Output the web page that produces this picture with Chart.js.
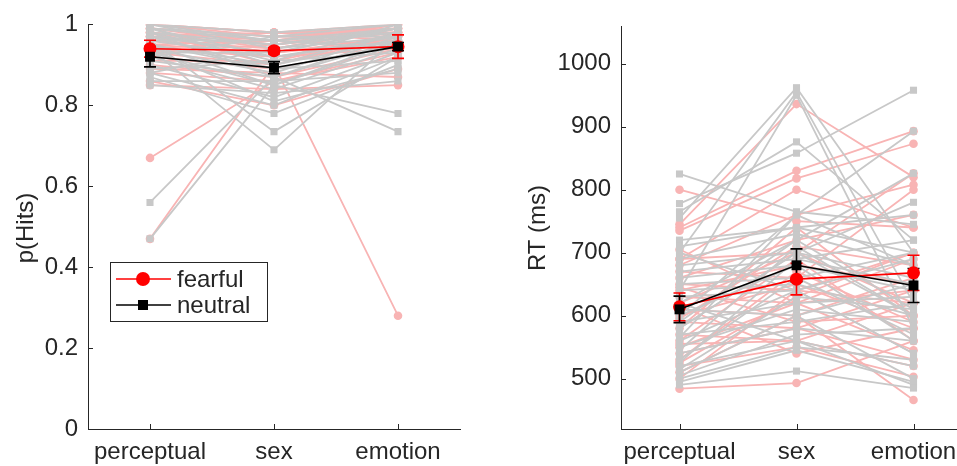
<!DOCTYPE html>
<html>
<head>
<meta charset="utf-8">
<script src="https://cdn.jsdelivr.net/npm/chart.js@4.4.1/dist/chart.umd.min.js"></script>
<style>
  body { margin:0; background:#fff; overflow:hidden; width:957px; height:466px; position:relative; }
  canvas { position:absolute; top:0; }
  #accChart { left:0; }
  #rtChart { left:480px; }
</style>
</head>
<body>
<canvas id="accChart" width="478" height="466"></canvas>
<canvas id="rtChart" width="510" height="466"></canvas>
<script>
// categories
var cats = ['perceptual', 'sex', 'emotion'];

// p(Hits), one triple per subject: [perceptual, sex, emotion]
var accFear = [
  [1.00,0.98,1.00],[0.99,0.97,0.99],[0.98,0.96,1.00],[0.97,0.95,0.98],[0.96,0.94,0.99],
  [0.95,0.93,0.97],[0.94,0.92,0.96],[0.93,0.90,0.98],[0.92,0.89,0.95],[0.90,0.87,0.94],
  [0.88,0.86,0.92],[0.86,0.80,0.89],[0.85,0.84,0.85],[0.67,0.86,0.93],[0.47,0.90,0.97],
  [0.98,0.90,0.28],[1.00,0.97,0.97],[0.99,0.95,1.00],[0.97,0.93,0.96],[0.96,0.98,0.98],
  [0.95,0.96,0.95],[0.98,0.94,0.99],[0.91,0.91,0.97],[0.99,0.97,0.98],[0.94,0.96,1.00],
  [0.97,0.98,0.99],[0.89,0.88,0.87],[1.00,0.98,0.96],[0.96,0.92,0.94],[0.93,0.95,0.98]
];
var accNeut = [
  [1.00,0.98,1.00],[0.99,0.96,0.99],[0.98,0.95,0.98],[0.97,0.93,0.99],[0.96,0.92,0.97],
  [0.95,0.90,0.96],[0.94,0.88,0.98],[0.93,0.85,0.95],[0.92,0.84,0.94],[0.90,0.82,0.93],
  [0.88,0.80,0.92],[0.87,0.78,0.90],[0.86,0.86,0.88],[0.85,0.83,0.86],[0.47,0.85,0.96],
  [0.56,0.87,0.97],[0.96,0.735,0.92],[0.94,0.69,0.97],[0.95,0.85,0.78],[0.91,0.87,0.735],
  [1.00,0.94,0.99],[0.99,0.97,0.97],[0.98,0.91,1.00],[0.97,0.89,0.95],[0.96,0.96,0.94],
  [0.93,0.93,0.99],[0.99,0.90,0.98],[0.98,0.87,0.96],[0.89,0.91,0.93],[0.97,0.95,0.99],
  [0.92,0.97,1.00],[0.95,0.89,0.91],[0.99,0.92,0.96],[0.88,0.94,0.97],[1.00,0.96,0.98],
  [0.94,0.81,0.89]
];
var accFearMean = [0.940, 0.935, 0.945];
var accFearErr  = [0.021, 0.008, 0.029];
var accNeutMean = [0.920, 0.893, 0.945];
var accNeutErr  = [0.025, 0.015, 0.010];
var accTicks = [0, 0.2, 0.4, 0.6, 0.8, 1];

// RT (ms), one triple per subject
var rtFear = [
  [800,750,740],[745,936,820],[740,830,893],[735,818,873],[690,700,826],
  [680,760,808],[670,660,800],[660,720,760],[650,640,700],[640,680,650],
  [630,620,690],[620,700,620],[610,600,660],[600,650,580],[590,580,640],
  [580,740,600],[570,560,620],[560,690,560],[550,620,545],[540,580,530],
  [530,670,590],[520,550,503],[510,600,466],[500,640,620],[484,493,560],
  [595,710,680],[525,630,700],[555,560,520],[645,590,600],[690,800,740],
  [705,620,640],[615,540,580]
];
var rtNeut = [
  [825,765,745],[778,858,958],[765,876,720],[755,962,700],[700,955,620],
  [640,950,580],[600,760,893],[590,720,826],[580,700,780],[710,740,700],
  [690,730,680],[680,700,660],[670,690,720],[660,680,640],[650,660,700],
  [640,650,600],[630,640,690],[620,720,610],[610,600,650],[600,680,560],
  [590,620,630],[580,700,600],[570,590,620],[560,640,540],[550,610,590],
  [540,580,560],[530,660,570],[520,560,520],[510,600,500],[500,550,530],
  [490,512,485],[495,545,495],[505,570,580],[515,630,610],[525,690,650],
  [545,710,600],[565,760,680],[620,560,490],[700,640,540],[720,740,760]
];
var rtFearMean = [614, 658, 668];
var rtFearErr  = [22, 25, 28];
var rtNeutMean = [610, 680, 648];
var rtNeutErr  = [21, 26, 27];
var rtTicks = [500, 600, 700, 800, 900, 1000];

var PINK = '#f8b4b4';
var GREY = '#c8c8c8';
var AXIS = '#262626';
var FONT = "'Liberation Sans', Arial, sans-serif";

function pts(v) {
  return v.map(function(y, i) { return {x: i + 1, y: y}; });
}

function buildSets(fear, neut, fm, nm) {
  var sets = [
    {data: pts(nm), borderColor:'#000', backgroundColor:'#000', pointStyle:'rect', pointRadius:7, borderWidth:1.6, pointBorderWidth:0},
    {data: pts(fm), borderColor:'#f00', backgroundColor:'#f00', pointStyle:'circle', pointRadius:6.5, borderWidth:1.6, pointBorderWidth:0}
  ];
  neut.forEach(function(s) {
    sets.push({data: pts(s), borderColor:GREY, backgroundColor:GREY, pointStyle:'rect', pointRadius:5, borderWidth:1.8, pointBorderWidth:0});
  });
  fear.forEach(function(s) {
    sets.push({data: pts(s), borderColor:PINK, backgroundColor:PINK, pointStyle:'circle', pointRadius:4.3, borderWidth:1.8, pointBorderWidth:0});
  });
  return sets;
}

// error bars (after the individual lines, under the means), inward ticks, labels, legend
var extras = {
  id: 'extras',
  afterDatasetDraw: function(chart, args, o) {
    if (args.index !== 2) return;
    var ctx = chart.ctx, xs = chart.scales.x, ys = chart.scales.y;
    o.bars.forEach(function(b) {
      ctx.save();
      ctx.strokeStyle = b.color;
      ctx.lineWidth = 1.6;
      b.mean.forEach(function(m, i) {
        var px = xs.getPixelForValue(i + 1);
        var lo = ys.getPixelForValue(m - b.err[i]);
        var hi = ys.getPixelForValue(m + b.err[i]);
        ctx.beginPath();
        ctx.moveTo(px, lo); ctx.lineTo(px, hi);
        ctx.moveTo(px - 6, lo); ctx.lineTo(px + 6, lo);
        ctx.moveTo(px - 6, hi); ctx.lineTo(px + 6, hi);
        ctx.stroke();
      });
      ctx.restore();
    });
  },
  afterDraw: function(chart, args, o) {
    var ctx = chart.ctx, xs = chart.scales.x, ys = chart.scales.y, a = chart.chartArea;
    ctx.save();
    ctx.strokeStyle = AXIS;
    ctx.lineWidth = 1;
    ctx.beginPath();
    ys.ticks.forEach(function(t) {
      var py = Math.round(ys.getPixelForValue(t.value)) + 0.5;
      ctx.moveTo(a.left, py); ctx.lineTo(a.left + 5, py);
    });
    xs.ticks.forEach(function(t) {
      var px = Math.round(xs.getPixelForValue(t.value)) + 0.5;
      ctx.moveTo(px, a.bottom); ctx.lineTo(px, a.bottom - 5);
    });
    ctx.stroke();
    // y axis title
    ctx.fillStyle = AXIS;
    ctx.font = '24px ' + FONT;
    ctx.textAlign = 'center';
    ctx.textBaseline = 'middle';
    ctx.translate(o.titleX, o.titleY);
    ctx.rotate(-Math.PI / 2);
    ctx.fillText(o.title, 0, 0);
    ctx.restore();
    if (o.legend) {
      var L = o.legend;
      ctx.save();
      ctx.fillStyle = '#fff';
      ctx.fillRect(L.x, L.y, L.w, L.h);
      ctx.strokeStyle = AXIS;
      ctx.lineWidth = 1;
      ctx.strokeRect(L.x + 0.5, L.y + 0.5, L.w, L.h);
      ctx.font = '24px ' + FONT;
      ctx.textBaseline = 'middle';
      ctx.textAlign = 'left';
      L.items.forEach(function(it, k) {
        var yy = L.y + 17 + k * 26;
        ctx.strokeStyle = it.color;
        ctx.fillStyle = it.color;
        ctx.lineWidth = 1.6;
        ctx.beginPath();
        ctx.moveTo(L.x + 6, yy); ctx.lineTo(L.x + 61, yy);
        ctx.stroke();
        if (it.shape === 'circle') {
          ctx.beginPath(); ctx.arc(L.x + 33, yy, 7, 0, Math.PI * 2); ctx.fill();
        } else {
          ctx.fillRect(L.x + 28, yy - 5, 10, 10);
        }
        ctx.fillStyle = AXIS;
        ctx.fillText(it.label, L.x + 67, yy + 1);
      });
      ctx.restore();
    }
  }
};

function makeChart(id, fear, neut, fm, fe, nm, ne, ymin, ymax, yTicks, fmt, yWidth, padTop, padRight, extraOpts) {
  var opts = {
    responsive: false,
    animation: false,
    devicePixelRatio: 1,
    layout: {padding: {top: padTop, right: padRight, left: 0, bottom: 0}},
    plugins: {
      legend: {display: false},
      tooltip: {enabled: false},
      extras: Object.assign({
        bars: [
          {mean: fm, err: fe, color: '#f00'},
          {mean: nm, err: ne, color: '#000'}
        ]
      }, extraOpts)
    },
    scales: {
      x: {
        type: 'linear', min: 0.5, max: 3.5,
        afterBuildTicks: function(s) { s.ticks = cats.map(function(c, i) { return {value: i + 1}; }); },
        afterFit: function(s) { s.height = 37; },
        grid: {display: false, drawTicks: false},
        border: {display: true, color: AXIS, width: 1},
        ticks: {
          padding: 9, color: AXIS, font: {family: FONT, size: 24}, autoSkip: false, maxRotation: 0,
          callback: function(v) { return cats[v - 1]; }
        }
      },
      y: {
        min: ymin, max: ymax,
        afterBuildTicks: function(s) { s.ticks = yTicks.map(function(v) { return {value: v}; }); },
        afterFit: function(s) { s.width = yWidth; },
        grid: {display: false, drawTicks: false},
        border: {display: true, color: AXIS, width: 1},
        ticks: {
          padding: 10, color: AXIS, font: {family: FONT, size: 24},
          callback: fmt
        }
      }
    }
  };
  return new Chart(document.getElementById(id), {
    type: 'line',
    data: {datasets: buildSets(fear, neut, fm, nm)},
    options: opts,
    plugins: [extras]
  });
}

makeChart('accChart', accFear, accNeut, accFearMean, accFearErr, accNeutMean, accNeutErr,
  0, 1, accTicks, function(v) { return String(Math.round(v * 10) / 10); }, 88, 21, 18,
  {title: 'p(Hits)', titleX: 26, titleY: 228,
   legend: {x: 110, y: 262, w: 157, h: 59, items: [
     {label: 'fearful', color: '#f00', shape: 'circle'},
     {label: 'neutral', color: '#000', shape: 'rect'}
   ]}});

makeChart('rtChart', rtFear, rtNeut, rtFearMean, rtFearErr, rtNeutMean, rtNeutErr,
  420, 1060, rtTicks, function(v) { return String(v); }, 141, 26, 18,
  {title: 'RT (ms)', titleX: 58, titleY: 228});
</script>
</body>
</html>
